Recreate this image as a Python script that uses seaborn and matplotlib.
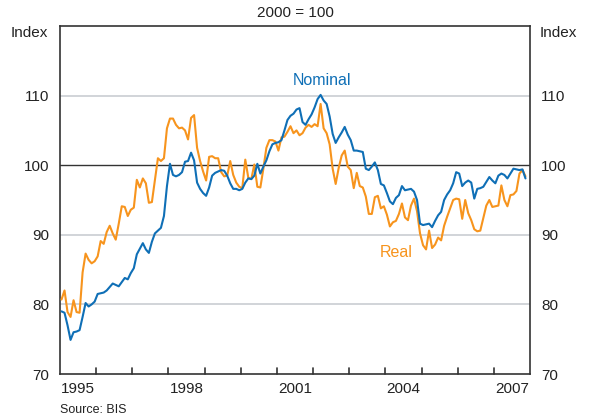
import numpy as np
import pandas as pd
import seaborn as sns
import matplotlib.pyplot as plt
from matplotlib.ticker import FixedLocator, FixedFormatter, NullFormatter

# monthly index values, Jan 1995 onwards (2000 = 100)
START_YEAR = 1995
nominal = [
    79.0, 78.8, 77.0, 74.9, 76.0, 76.1, 76.3, 78.2, 80.2, 79.7, 80.0, 80.4,
    81.5, 81.6, 81.7, 82.0, 82.5, 83.0, 82.8, 82.6, 83.2, 83.8, 83.6, 84.5,
    85.2, 87.2, 88.0, 88.8, 87.9, 87.4, 89.0, 90.2, 90.6, 91.0, 92.7, 97.0,
    100.2, 98.6, 98.4, 98.6, 99.0, 100.5, 100.6, 101.8, 100.7, 97.5, 96.6, 96.0,
    95.6, 96.8, 98.5, 98.9, 99.1, 99.3, 99.2, 98.5, 97.4, 96.6, 96.6, 96.4,
    96.6, 97.5, 98.1, 98.0, 98.5, 100.2, 98.8, 99.8, 100.7, 102.0, 103.0, 103.2,
    103.3, 103.6, 105.0, 106.5, 107.1, 107.4, 108.0, 108.2, 106.2, 105.8, 106.6, 107.3,
    108.3, 109.5, 110.1, 109.3, 108.8, 107.0, 104.5, 103.2, 104.0, 104.7, 105.5, 104.4,
    103.6, 102.1, 102.1, 102.0, 101.9, 99.5, 99.3, 99.8, 100.4, 99.3, 97.3, 97.1,
    96.0, 94.8, 94.4, 95.3, 95.7, 97.0, 96.4, 96.5, 96.6, 96.2, 95.0, 91.6,
    91.4, 91.5, 91.6, 91.1, 92.0, 92.8, 93.3, 95.0, 95.8, 96.4, 97.4, 99.0,
    98.8, 97.0, 97.5, 97.8, 97.5, 95.2, 96.6, 96.7, 96.9, 97.6, 98.3, 97.8,
    97.4, 98.5, 98.8, 98.6, 98.1, 98.8, 99.5, 99.4, 99.3, 99.4, 98.1,
]
real = [
    80.7, 82.0, 78.9, 78.2, 80.6, 78.9, 78.8, 84.6, 87.3, 86.4, 85.9, 86.2,
    86.9, 89.1, 88.7, 90.4, 91.3, 90.2, 89.3, 91.6, 94.1, 94.0, 92.7, 93.6,
    93.9, 97.9, 96.8, 98.1, 97.4, 94.6, 94.7, 97.8, 101.0, 100.6, 101.0, 105.3,
    106.7, 106.7, 105.8, 105.3, 105.4, 105.0, 103.7, 106.8, 107.2, 102.5, 100.6, 99.1,
    97.8, 101.2, 101.3, 101.0, 101.0, 99.0, 98.4, 98.5, 100.6, 98.6, 97.5, 96.9,
    96.7, 100.8, 98.2, 98.0, 100.1, 96.9, 96.8, 99.5, 102.5, 103.6, 103.6, 103.4,
    102.1, 104.0, 104.1, 104.8, 105.6, 104.6, 105.0, 104.3, 104.6, 105.4, 105.8, 105.5,
    105.9, 105.6, 108.8, 105.3, 104.6, 103.0, 99.5, 97.3, 99.6, 101.4, 102.1, 99.8,
    99.3, 96.7, 98.9, 97.0, 96.8, 95.5, 93.0, 93.0, 95.4, 95.6, 93.8, 94.1,
    92.9, 91.2, 91.8, 92.0, 93.0, 94.5, 92.5, 92.1, 94.2, 95.2, 93.4, 90.2,
    88.5, 87.9, 90.6, 88.1, 88.6, 89.6, 89.2, 91.3, 92.6, 93.8, 95.0, 95.2,
    95.1, 92.3, 95.0, 93.1, 92.1, 90.8, 90.5, 90.6, 92.4, 94.2, 95.0, 94.0,
    94.1, 94.2, 97.1, 95.0, 94.1, 95.7, 95.8, 96.3, 98.8, 99.3, 98.4,
]
series_names = ["Nominal", "Real"]
y_ticks = [70, 80, 90, 100, 110]
year_labels = [1995, 1998, 2001, 2004, 2007]

BLUE = "#0f6fb6"
ORANGE = "#f7941d"
FRAME = "#333333"

n = len(nominal)
x = START_YEAR + (np.arange(n) + 0.5) / 12
df = pd.DataFrame({
    "year": np.concatenate([x, x]),
    "value": nominal + real,
    "series": [series_names[0]] * n + [series_names[1]] * n,
})

sns.set_theme(style="ticks")
plt.rcParams["font.family"] = ["Liberation Sans", "DejaVu Sans"]

fig = plt.figure(figsize=(5.9, 4.18), dpi=100)
ax = fig.add_axes([60 / 590, 1 - 374 / 418, 470 / 590, 348 / 418])

for y in y_ticks[1:]:
    if y == 100:
        ax.axhline(y, color=FRAME, lw=1.0, zorder=1)
    else:
        ax.axhline(y, color="#c9cdd2", lw=1.2, zorder=1)

sns.lineplot(data=df, x="year", y="value", hue="series",
             palette={"Nominal": BLUE, "Real": ORANGE},
             hue_order=["Real", "Nominal"],
             estimator=None, sort=False, lw=1.5, legend=False, ax=ax, zorder=3)

ax.set_xlim(START_YEAR, 2008)
ax.set_ylim(70, 120)
ax.set_xlabel("")
ax.set_ylabel("")

# short inward marks on the year boundaries along the bottom frame
for yr in range(START_YEAR + 1, 2008):
    ax.axvline(yr, ymin=0, ymax=6 / 348, color=FRAME, lw=1.2, zorder=5, clip_on=False)

# year labels in the middle of the year
ax.xaxis.set_major_locator(FixedLocator([yr + 0.5 for yr in year_labels]))
ax.xaxis.set_major_formatter(FixedFormatter([str(yr) for yr in year_labels]))
ax.xaxis.set_minor_formatter(NullFormatter())
ax.tick_params(axis="x", which="both", length=0, labelsize=11, pad=6,
               labelcolor="#222222")

ax.set_yticks(y_ticks)
ax.tick_params(axis="y", which="both", length=0, labelsize=11, labelleft=True,
               labelright=True, left=False, right=False, pad=8, labelcolor="#222222")

for side in ax.spines.values():
    side.set_color(FRAME)
    side.set_linewidth(1.2)
    side.set_visible(True)

ax.text(2002.25, 112.1, "Nominal", color=BLUE, fontsize=11.5, ha="center", va="center")
ax.text(2004.3, 87.5, "Real", color=ORANGE, fontsize=11.5, ha="center", va="center")

fig.text(295 / 590, 1 - 13 / 418, "2000 = 100", ha="center", va="center", fontsize=11, color="#222222")
fig.text(48 / 590, 1 - 33 / 418, "Index", ha="right", va="center", fontsize=11, color="#222222")
fig.text(540 / 590, 1 - 33 / 418, "Index", ha="left", va="center", fontsize=11, color="#222222")
fig.text(60 / 590, 1 - 410 / 418, "Source: BIS", ha="left", va="center", fontsize=9, color="#222222")

fig.savefig("out.png", dpi=100)
